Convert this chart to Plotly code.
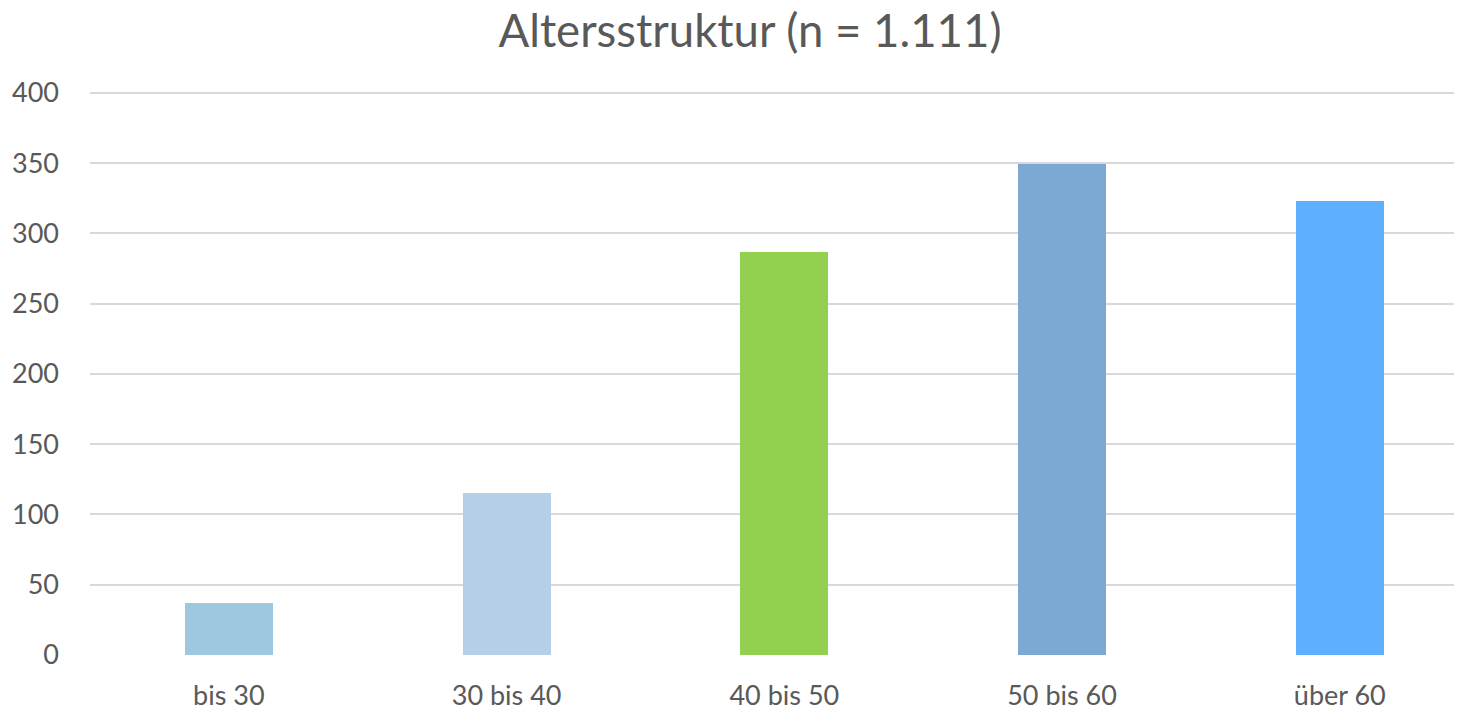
import plotly.graph_objects as go

categories = ["bis 30", "30 bis 40", "40 bis 50", "50 bis 60", "über 60"]
values = [37, 115, 287, 349, 323]
colors = ["#9DC8E0", "#B4CFE6", "#92D050", "#7BA9D3", "#5EB0FE"]
y_ticks = [0, 50, 100, 150, 200, 250, 300, 350, 400]

fig = go.Figure(go.Bar(
    x=categories, y=values, marker=dict(color=colors, line=dict(width=0)),
    width=0.317,
))

W, H = 1454, 702
fig.update_layout(
    width=W, height=H,
    paper_bgcolor="white", plot_bgcolor="white",
    margin=dict(l=82, r=0, t=82, b=55),
    font=dict(family="Lato, Open Sans, sans-serif", color="#595959"),
    title=dict(text="Altersstruktur (n = 1.111)", x=742/W, xanchor="center",
               xref="container", y=1 - 23/H, yanchor="middle",
               font=dict(size=45.5, color="#595959")),
    showlegend=False,
    bargap=0,
)
fig.update_xaxes(range=[-0.5, 4.44], showgrid=False, showline=False, zeroline=False,
                 ticks="", tickfont=dict(size=27, color="#595959"), ticklabelstandoff=22)
fig.update_yaxes(range=[0, 402], tickvals=y_ticks, showgrid=True, gridcolor="#D9D9D9",
                 gridwidth=2, zeroline=False, showline=False, ticks="",
                 tickfont=dict(size=27, color="#595959"), ticklabelstandoff=30)

fig.write_html("out.html")
